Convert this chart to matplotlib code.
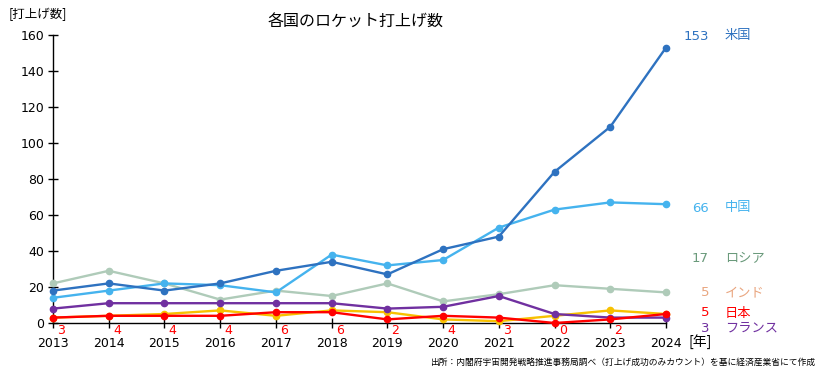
import matplotlib
matplotlib.use("Agg")
import matplotlib.pyplot as plt

plt.rcParams['font.family'] = ['DejaVu Sans', 'Noto Sans CJK JP']

years = [2013, 2014, 2015, 2016, 2017, 2018, 2019, 2020, 2021, 2022, 2023, 2024]
usa = [18, 22, 18, 22, 29, 34, 27, 41, 48, 84, 109, 153]
china = [14, 18, 22, 21, 17, 38, 32, 35, 53, 63, 67, 66]
russia = [22, 29, 22, 13, 18, 15, 22, 12, 16, 21, 19, 17]
india = [3, 4, 5, 7, 4, 7, 6, 2, 1, 4, 7, 5]
france = [8, 11, 11, 11, 11, 11, 8, 9, 15, 5, 3, 3]
japan = [3, 4, 4, 4, 6, 6, 2, 4, 3, 0, 2, 5]
names = ["米国", "中国", "ロシア", "インド", "日本", "フランス"]
yticks = [0, 20, 40, 60, 80, 100, 120, 140, 160]

CJK = ['Noto Sans CJK JP', 'DejaVu Sans']

W, H = 822, 372
fig = plt.figure(figsize=(W / 100, H / 100), dpi=100)
ax = fig.add_axes([53 / W, 49 / H, 613 / W, 288 / H])

series = [
    (russia, "#afcbb9", "#6a9a7b", 2),
    (india, "#f7c100", "#e9a57f", 3),
    (france, "#7030a0", "#7030a0", 5),
    (china, "#45b3ee", "#45b3ee", 1),
    (usa, "#2e72c0", "#2e72c0", 0),
    (japan, "#ff0000", "#ff0000", 4),
]
# label pixel rows (from top) for right-side labels, by name index
label_rows = {0: 36, 1: 208, 2: 259, 3: 293, 4: 313, 5: 328}

for vals, lc, tc, idx in series:
    ax.plot(years, vals, color=lc, lw=1.7, marker='o', ms=4.5, clip_on=False, zorder=3)
    ypix = H - label_rows[idx]
    fig.text(709 / W, ypix / H, str(vals[-1]), color=tc, ha='right', va='center', fontsize=9.5)
    fig.text(725 / W, ypix / H, names[idx], color=tc, ha='left', va='center', fontsize=9.5,
             family=CJK)

for x, v in zip(years[:-1], japan[:-1]):
    ax.annotate(str(v), (x, 0), xytext=(3, -1), textcoords='offset points',
                ha='left', va='top', color='#ff0000', fontsize=9)

ax.set_xlim(2013, 2024)
ax.set_ylim(0, 160)
ax.set_xticks(years)
ax.set_yticks(yticks)
ax.tick_params(axis='both', direction='inout', length=6.5, width=1, labelsize=9, colors='black')
ax.tick_params(axis='x', pad=7)
ax.tick_params(axis='y', pad=3)
for s in ['top', 'right']:
    ax.spines[s].set_visible(False)
for s in ['left', 'bottom']:
    ax.spines[s].set_linewidth(1)

fig.text(356 / W, (H - 22) / H, "各国のロケット打上げ数", ha='center', va='center', fontsize=11.5,
         family=CJK)
fig.text(9 / W, (H - 14) / H, "[打上げ数]", ha='left', va='center', fontsize=9, family=CJK)
fig.text(688 / W, (H - 342) / H, "[年]", ha='left', va='center', fontsize=10, family=CJK)
fig.text(815 / W, (H - 362) / H,
         "出所：内閣府宇宙開発戦略推進事務局調べ（打上げ成功のみカウント）を基に経済産業省にて作成",
         ha='right', va='center', fontsize=6.3, family=CJK)

fig.savefig("out.png", dpi=100)
